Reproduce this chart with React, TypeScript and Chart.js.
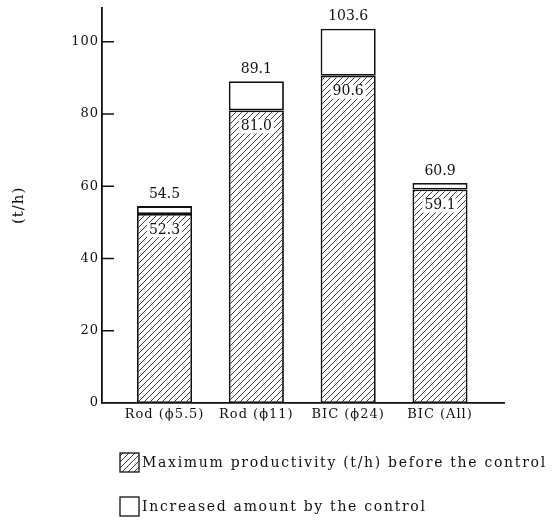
import React, { useEffect, useRef } from "react";
import { Chart, registerables } from "chart.js";

Chart.register(...registerables);

const categories = ["Rod (ϕ5.5)", "Rod (ϕ11)", "BIC (ϕ24)", "BIC (All)"];
const beforeControl = [52.3, 81.0, 90.6, 59.1];
const afterControl = [54.5, 89.1, 103.6, 60.9];
const yTickValues = [0, 10, 20, 30, 40, 50, 60, 70, 80, 90, 100];
const yLabeledTicks = [0, 20, 40, 60, 80, 100];
const seriesLabels = [
  "Maximum productivity (t/h) before the control",
  "Increased amount by the control",
];
const yAxisTitle = "(t/h)";

const Y_MAX = 109.4;
const X_MIN = 0.319;
const X_MAX = 4.697;
const FONT = "'DejaVu Serif', 'Liberation Serif', serif";
const INK = "#111";

function makeHatch(ctx: CanvasRenderingContext2D): any {
  const c = document.createElement("canvas");
  c.width = 6;
  c.height = 6;
  const g = c.getContext("2d")!;
  g.fillStyle = "#fff";
  g.fillRect(0, 0, 6, 6);
  g.strokeStyle = "#222";
  g.lineWidth = 0.9;
  g.beginPath();
  g.moveTo(0, 6);
  g.lineTo(6, 0);
  g.moveTo(-1, 1);
  g.lineTo(1, -1);
  g.moveTo(5, 7);
  g.lineTo(7, 5);
  g.stroke();
  return ctx.createPattern(c, "repeat");
}

export default function App() {
  const ref = useRef<HTMLCanvasElement>(null);

  useEffect(() => {
    const canvas = ref.current!;
    const ctx2d = canvas.getContext("2d")!;
    const hatch = makeHatch(ctx2d);
    const increase = afterControl.map((t, i) => Math.round((t - beforeControl[i]) * 10) / 10);

    const spacingPlugin = {
      id: "spacing",
      beforeDraw(chart: any) {
        chart.ctx.letterSpacing = "1px";
      },
    };

    const innerTicks = {
      id: "innerTicks",
      afterDatasetsDraw(chart: any) {
        const ys = chart.scales.y;
        const ctx = chart.ctx;
        const x0 = chart.chartArea.left;
        ctx.save();
        ctx.strokeStyle = INK;
        ctx.lineWidth = 1.5;
        ys.ticks.forEach((t: any) => {
          if (t.value > 0 && yTickValues.includes(t.value)) {
            const py = ys.getPixelForValue(t.value);
            ctx.beginPath();
            ctx.moveTo(x0, py);
            ctx.lineTo(x0 + 12, py);
            ctx.stroke();
          }
        });
        ctx.restore();
      },
    };

    const valueLabels = {
      id: "valueLabels",
      afterDatasetsDraw(chart: any) {
        const ctx = chart.ctx;
        const m0 = chart.getDatasetMeta(0);
        const m1 = chart.getDatasetMeta(1);
        ctx.save();
        ctx.letterSpacing = "0px";
        ctx.font = `14px ${FONT}`;
        ctx.textAlign = "center";
        ctx.textBaseline = "middle";
        beforeControl.forEach((v, i) => {
          const b = m0.data[i];
          const t = m1.data[i];
          const txt = v.toFixed(1);
          const w = ctx.measureText(txt).width;
          const cy = b.y + 16;
          ctx.fillStyle = "#fff";
          ctx.fillRect(b.x - w / 2 - 2, cy - 7, w + 4, 14);
          ctx.fillStyle = INK;
          ctx.fillText(txt, b.x, cy);
          ctx.fillText(afterControl[i].toFixed(1), t.x, t.y - 12);
        });
        ctx.restore();
      },
    };

    const customLegend = {
      id: "customLegend",
      afterDraw(chart: any) {
        const ctx = chart.ctx;
        const items = chart.data.datasets.map((d: any) => ({ label: d.label, fill: d.backgroundColor }));
        const rows = [453, 497];
        ctx.save();
        ctx.letterSpacing = "1.7px";
        ctx.font = `14px ${FONT}`;
        ctx.textAlign = "left";
        ctx.textBaseline = "middle";
        items.forEach((it: any, i: number) => {
          const top = rows[i];
          ctx.fillStyle = it.fill;
          ctx.fillRect(120, top, 19, 19);
          ctx.strokeStyle = INK;
          ctx.lineWidth = 1.3;
          ctx.strokeRect(120, top, 19, 19);
          ctx.fillStyle = INK;
          ctx.fillText(it.label, 142, top + 10);
        });
        ctx.restore();
      },
    };

    const chart = new Chart(canvas, {
      type: "bar",
      data: {
        datasets: [
          {
            label: seriesLabels[0],
            data: beforeControl.map((v, i) => ({ x: i + 1, y: v })),
            backgroundColor: hatch,
            borderColor: INK,
            borderWidth: 1.8,
            borderSkipped: false,
            barPercentage: 0.6,
            categoryPercentage: 1,
            stack: "s",
          },
          {
            label: seriesLabels[1],
            data: increase.map((v, i) => ({ x: i + 1, y: v })),
            backgroundColor: "#fff",
            borderColor: INK,
            borderWidth: 1.8,
            borderSkipped: false,
            barPercentage: 0.6,
            categoryPercentage: 1,
            stack: "s",
          },
        ],
      } as any,
      options: {
        responsive: false,
        animation: false,
        layout: { padding: { top: 7, right: 55, left: 0, bottom: 0 } },
        plugins: {
          legend: { display: false },
          tooltip: { enabled: false },
        },
        scales: {
          x: {
            type: "linear",
            offset: false,
            min: X_MIN,
            max: X_MAX,
            afterBuildTicks: (s: any) => {
              s.ticks = categories.map((_, i) => ({ value: i + 1 }));
            },
            ticks: {
              callback: (v: any) => categories[Math.round(v) - 1] ?? null,
              padding: 4,
              autoSkip: false,
              maxRotation: 0,
              minRotation: 0,
              font: { family: FONT, size: 13 },
              color: INK,
            },
            grid: { display: false, drawTicks: false, offset: false },
            border: { display: true, color: INK, width: 1.8 },
            afterFit: (s: any) => {
              s.height = 118;
            },
          },
          y: {
            type: "linear",
            stacked: true,
            min: 0,
            max: Y_MAX,
            afterBuildTicks: (s: any) => {
              s.ticks = [...yTickValues, Y_MAX].map((v) => ({ value: v }));
            },
            ticks: {
              callback: (v: any) => (yLabeledTicks.includes(v) ? String(v) : null),
              padding: 0,
              autoSkip: false,
              font: { family: FONT, size: 13 },
              color: INK,
            },
            grid: { display: false, drawTicks: true, tickLength: 3 },
            border: { display: true, color: INK, width: 1.8 },
            title: {
              display: true,
              text: yAxisTitle,
              font: { family: FONT, size: 15 },
              color: INK,
              padding: { top: 10, bottom: 4 },
            },
            afterFit: (s: any) => {
              s.width = 102;
            },
          },
        },
      } as any,
      plugins: [spacingPlugin, innerTicks, valueLabels, customLegend],
    });

    return () => chart.destroy();
  }, []);

  return (
    <div style={{ position: "fixed", left: 0, top: 0, width: 559, height: 521, background: "#fff" }}>
      <canvas ref={ref} width={559} height={521} style={{ display: "block" }} />
    </div>
  );
}
